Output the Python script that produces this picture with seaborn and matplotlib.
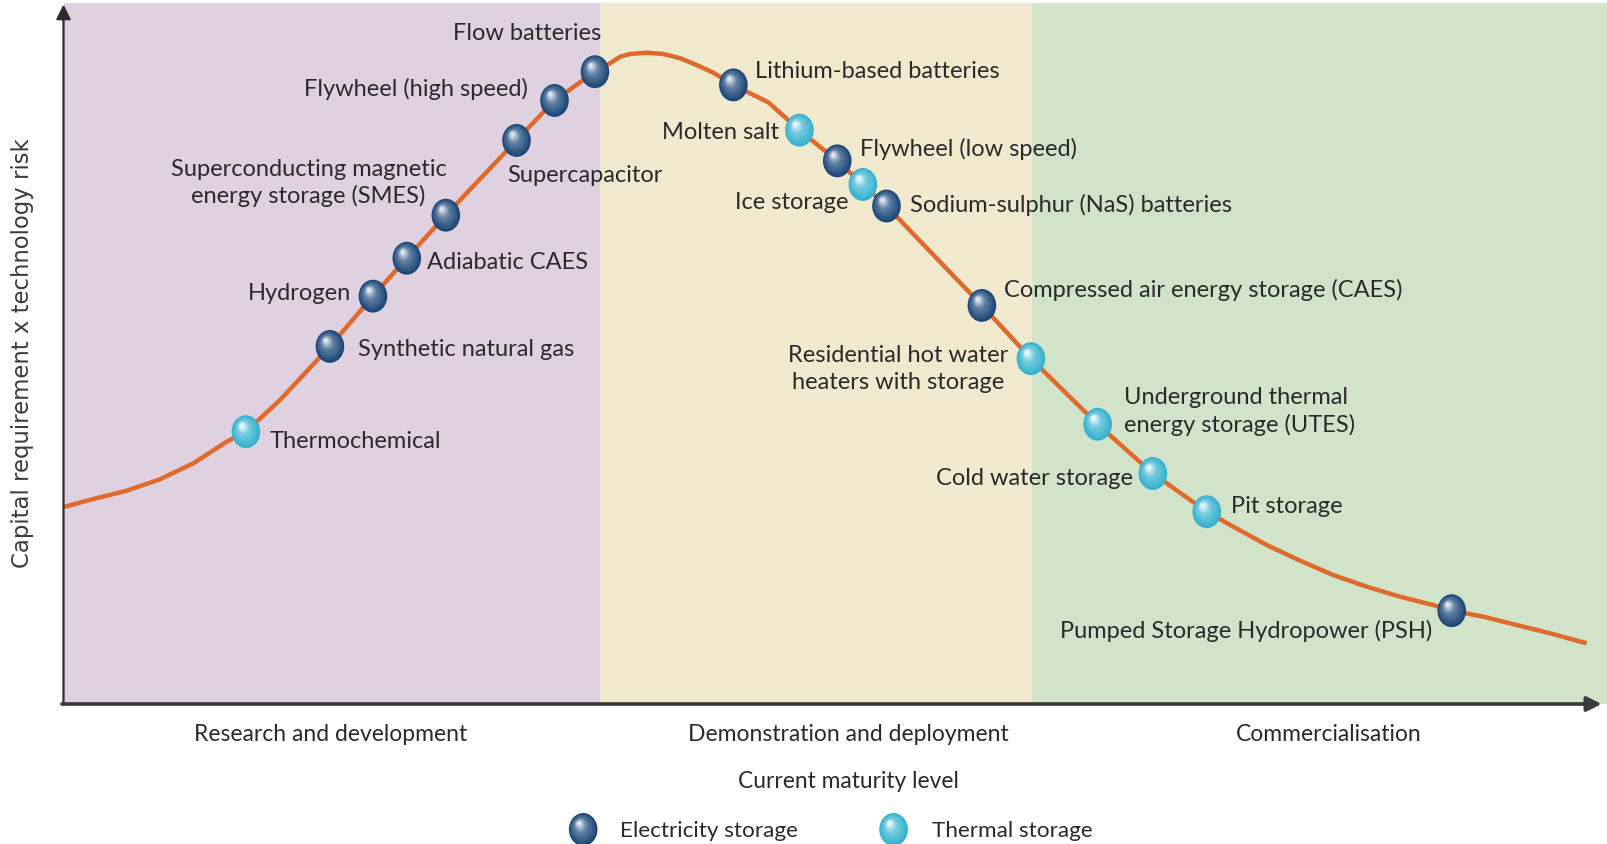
import matplotlib
matplotlib.use("Agg")
import matplotlib.pyplot as plt
import matplotlib.transforms as mtransforms
from matplotlib.path import Path
from matplotlib.colors import to_rgb
import numpy as np
import pandas as pd
import seaborn as sns

# ---------------- data ----------------
curve_x = [0.0, 1.93, 4.09, 6.25, 8.41, 10.57, 11.82, 14.03, 17.26, 20.05, 22.24, 24.77,
           29.35, 31.81, 34.43, 35.41, 36.06, 36.71, 37.78, 38.86, 39.96, 41.02, 42.10,
           43.40, 45.68, 47.68, 50.13, 51.79, 53.32, 56.31, 59.50, 62.68, 67.00, 70.58,
           74.07, 75.79, 77.95, 80.11, 82.27, 84.43, 86.59, 88.75, 89.94, 91.99, 94.15,
           96.31, 98.68]
curve_y = [28.10, 29.25, 30.43, 32.06, 34.34, 37.42, 38.85, 43.37, 51.02, 58.19, 63.60, 69.74,
           80.41, 86.11, 90.21, 91.41, 92.35, 92.74, 92.92, 92.74, 92.13, 91.17, 90.07,
           88.33, 85.82, 81.87, 77.49, 74.12, 71.05, 64.18, 56.87, 49.27, 39.91, 32.89,
           27.44, 25.30, 22.69, 20.45, 18.40, 16.74, 15.31, 14.12, 13.31, 12.46, 11.27,
           10.09, 8.66]

tech_names = ["Thermochemical", "Synthetic natural gas", "Hydrogen", "Adiabatic CAES",
              "Superconducting magnetic\nenergy storage (SMES)", "Supercapacitor",
              "Flywheel (high speed)", "Flow batteries", "Lithium-based batteries",
              "Molten salt", "Flywheel (low speed)", "Ice storage",
              "Sodium-sulphur (NaS) batteries", "Compressed air energy storage (CAES)",
              "Residential hot water\nheaters with storage",
              "Underground thermal\nenergy storage (UTES)", "Cold water storage",
              "Pit storage", "Pumped Storage Hydropower (PSH)"]
tech_type = ["Thermal", "Electricity", "Electricity", "Electricity", "Electricity",
             "Electricity", "Electricity", "Electricity", "Electricity", "Thermal",
             "Electricity", "Thermal", "Electricity", "Electricity", "Thermal",
             "Thermal", "Thermal", "Thermal", "Electricity"]
tech_x = [11.82, 17.26, 20.05, 22.24, 24.77, 29.35, 31.81, 34.43, 43.40, 47.68, 50.13,
          51.79, 53.32, 59.50, 62.68, 67.00, 70.58, 74.07, 89.94]
tech_y = [38.85, 51.02, 58.19, 63.60, 69.74, 80.41, 86.11, 90.21, 88.33, 81.87, 77.49,
          74.12, 71.05, 56.87, 49.27, 39.91, 32.89, 27.44, 13.31]

stage_labels = ["Research and development", "Demonstration and deployment", "Commercialisation"]
stage_bounds = [0, 34.73, 62.75, 100]
legend_labels = ["Electricity storage", "Thermal storage"]

# ---------------- layout / styles ----------------
label_layout = {  # x, y, ha
    "Thermochemical": (13.35, 37.4, "left"),
    "Synthetic natural gas": (19.06, 50.6, "left"),
    "Hydrogen": (18.66, 58.6, "right"),
    "Adiabatic CAES": (23.57, 63.0, "left"),
    "Superconducting magnetic\nenergy storage (SMES)": (15.87, 74.3, "center"),
    "Supercapacitor": (28.75, 75.4, "left"),
    "Flywheel (high speed)": (30.08, 87.7, "right"),
    "Flow batteries": (34.86, 95.6, "right"),
    "Lithium-based batteries": (44.82, 90.2, "left"),
    "Molten salt": (46.35, 81.6, "right"),
    "Flywheel (low speed)": (51.59, 79.2, "left"),
    "Ice storage": (50.86, 71.6, "right"),
    "Sodium-sulphur (NaS) batteries": (54.85, 71.2, "left"),
    "Compressed air energy storage (CAES)": (60.96, 59.1, "left"),
    "Residential hot water\nheaters with storage": (54.05, 47.8, "center"),
    "Underground thermal\nenergy storage (UTES)": (68.73, 41.7, "left"),
    "Cold water storage": (69.26, 32.2, "right"),
    "Pit storage": (75.63, 28.2, "left"),
    "Pumped Storage Hydropower (PSH)": (88.71, 10.4, "right"),
}
stage_colors = ["#e0d1e0", "#f2eacf", "#d1e3c9"]
stage_centers = [17.33, 50.86, 82.0]
sphere_cols = {"Electricity": ("#1b4677", "#e4ebf3"), "Thermal": ("#35b1cf", "#f0fbfd")}
curve_color = "#e06a2c"
text_color = "#2a2a2a"
FONT = "Lato"

sns.set_theme(style="white")
plt.rcParams["font.family"] = [FONT, "DejaVu Sans"]

fig = plt.figure(figsize=(16.07, 8.44), dpi=100)
ax = fig.add_axes([63.5 / 1607, 140 / 844, 1 - 63.5 / 1607, 700.9 / 844])
ax.set_xlim(0, 100)
ax.set_ylim(0, 100)
for s in ax.spines.values():
    s.set_visible(False)
ax.set_xticks([])
ax.set_yticks([])

# stage backgrounds
for i, c in enumerate(stage_colors):
    ax.axvspan(stage_bounds[i], stage_bounds[i + 1], color=c, lw=0, zorder=0)

# curve
df_curve = pd.DataFrame({"x": curve_x, "y": curve_y})
sns.lineplot(data=df_curve, x="x", y="y", color=curve_color, lw=3.2, ax=ax,
             sort=False, zorder=3, solid_capstyle="butt", solid_joinstyle="round")

# spheres
ell = Path.unit_circle().transformed(mtransforms.Affine2D().scale(0.87, 1.0))


def blend(a, b, t):
    a, b = np.array(to_rgb(a)), np.array(to_rgb(b))
    return tuple(a + (b - a) * t)


def draw_spheres(xs, ys, kind, size=560, n=14, clip=True, base_z=5):
    dark, light = sphere_cols[kind]
    mid = blend(dark, light, 0.35)
    for i in range(n):
        t = i / (n - 1)
        s = size * (1 - 0.9 * t) ** 2
        if t < 0.6:
            col = blend(dark, mid, t / 0.6)
        else:
            col = blend(mid, light, (t - 0.6) / 0.4)
        off = mtransforms.offset_copy(ax.transData, fig=fig, x=-3.0 * t, y=4.5 * t,
                                      units="points")
        sns.scatterplot(x=xs, y=ys, s=s, color=col, marker=ell, linewidth=0,
                        edgecolor="none", ax=ax, transform=off, clip_on=clip,
                        legend=False, zorder=base_z + i * 0.01)


df_tech = pd.DataFrame({"name": tech_names, "type": tech_type, "x": tech_x, "y": tech_y})
for kind in ["Electricity", "Thermal"]:
    sub = df_tech[df_tech["type"] == kind]
    draw_spheres(sub["x"].to_numpy(), sub["y"].to_numpy(), kind)

# labels
for name in tech_names:
    x, y, ha = label_layout[name]
    ax.text(x, y, name, ha=ha, va="center", fontsize=17, color=text_color,
            multialignment="center" if ha == "center" else ha, linespacing=1.3, zorder=8)

# axes arrows
arrow_kw = dict(arrowstyle="-|>", color="#2b2b2b", lw=1.6, mutation_scale=22,
                shrinkA=0, shrinkB=0)
ax.annotate("", xy=(0, 99.8), xytext=(0, -0.1), arrowprops=arrow_kw,
            annotation_clip=False, zorder=10)
ax.annotate("", xy=(99.65, 0), xytext=(-0.1, 0),
            arrowprops=dict(arrow_kw, lw=2.6, color="#3a3a3a"),
            annotation_clip=False, zorder=10)

# stage labels and x title
for lab, cx in zip(stage_labels, stage_centers):
    ax.text(cx, -4.3, lab, ha="center", va="center", fontsize=16.5, color=text_color,
            clip_on=False)
ax.text(50.86, -11.0, "Current maturity level", ha="center", va="center",
        fontsize=16.4, color=text_color, clip_on=False)

# y title
ax.text(-2.66, 50.0, "Capital requirement x technology risk", rotation=90,
        ha="center", va="center", fontsize=16.4, color="#3a3a3a",
        family=["DejaVu Sans"], clip_on=False)

# legend
leg_marker_x = [33.67, 53.78]
leg_text_x = [36.06, 56.24]
for kind, mx, tx, lab in zip(["Electricity", "Thermal"], leg_marker_x, leg_text_x, legend_labels):
    draw_spheres(np.array([mx]), np.array([-17.9]), kind, clip=False)
    ax.text(tx, -18.1, lab, ha="left", va="center", fontsize=16.2, color=text_color,
            clip_on=False)

fig.savefig("out.png", dpi=100)
